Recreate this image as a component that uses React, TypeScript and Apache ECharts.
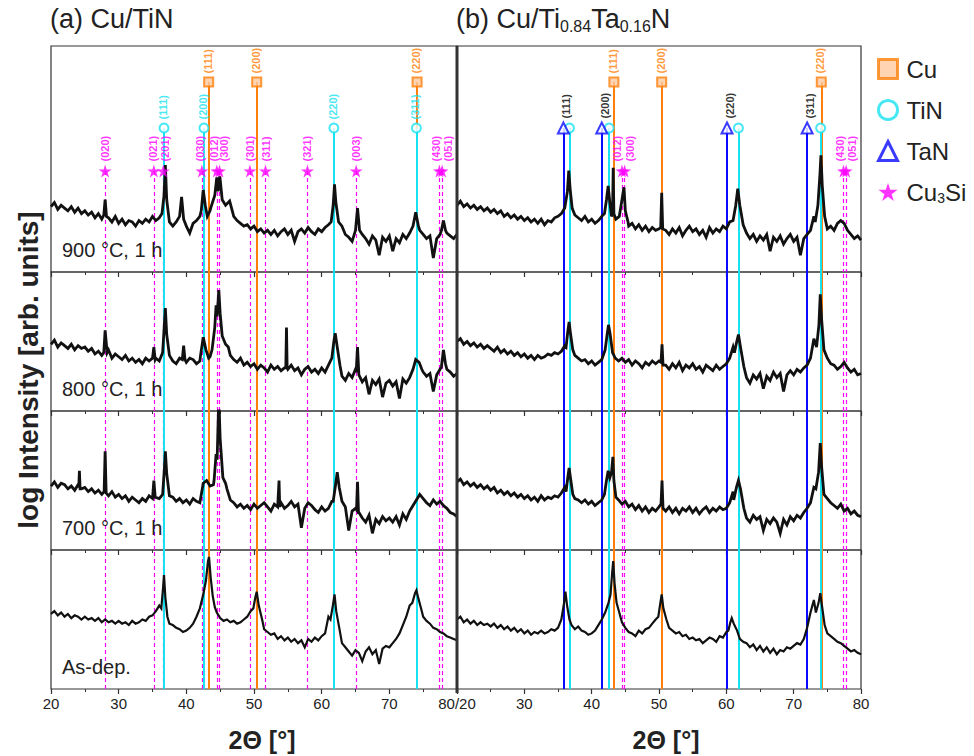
import React, { useEffect, useRef } from 'react';
import * as echarts from 'echarts';

// ---------- DATA ----------
// Baselines: intensity (arb. units, log) sampled every 0.5° from 20° to 80°
const X_START = 20;
const X_STEP = 0.5;

const a900Base = [
  47, 50, 45, 48, 46, 44, 47, 43, 46, 42,
  44, 41, 43, 39, 42, 38, 40, 39, 36, 40,
  35, 38, 34, 37, 36, 33, 37, 35, 38, 36,
  40, 37, 39, 40, 38, 36, 33, 36, 37, 35,
  33, 28, 35, 37, 40, 44, 41, 44, 46, 50,
  52, 48, 50, 47, 40, 37, 35, 33, 34, 31,
  33, 29, 31, 28, 30, 27, 30, 26, 29, 31,
  27, 30, 22, 29, 31, 28, 32, 29, 27, 31,
  29, 32, 34, 40, 45, 36, 33, 27, 25, 22,
  28, 30, 27, 24, 20, 26, 23, 12, 25, 22,
  26, 15, 24, 21, 27, 24, 28, 30, 34, 30,
  27, 24, 26, 10, 24, 27, 26, 28, 26, 24,
  27,
];
const a900Peaks = [
  [[27.8, 41], [28.0, 52], [28.2, 40]],
  [[36.4, 42], [36.7, 55], [36.9, 77], [37.1, 52], [37.4, 40]],
  [[39.0, 40], [39.3, 54], [39.6, 38]],
  [[42.2, 44], [42.5, 59], [42.8, 48], [43.1, 40]],
  [[43.6, 46], [44.2, 55], [44.5, 68], [44.7, 58], [44.95, 69], [45.3, 52], [45.8, 48], [46.4, 51], [46.9, 42]],
  [[61.4, 36], [61.7, 48], [61.9, 63], [62.1, 50], [62.5, 36]],
  [[65.0, 30], [65.3, 46], [65.6, 30]],
  [[73.5, 33], [73.9, 43], [74.3, 33]],
  [[77.7, 30], [78.0, 37], [78.3, 30]],
];

const a800Base = [
  48, 51, 46, 49, 47, 45, 48, 44, 47, 45,
  46, 43, 45, 41, 43, 40, 42, 44, 38, 41,
  39, 37, 40, 36, 38, 35, 37, 34, 38, 36,
  40, 38, 36, 39, 41, 37, 36, 34, 38, 36,
  35, 38, 37, 34, 36, 40, 42, 39, 45, 50,
  47, 44, 42, 40, 37, 35, 38, 33, 35, 32,
  34, 30, 33, 31, 28, 33, 30, 32, 29, 31,
  30, 33, 29, 31, 26, 30, 32, 28, 30, 27,
  31, 28, 33, 40, 35, 28, 25, 22, 27, 24,
  30, 26, 21, 24, 12, 22, 19, 23, 10, 20,
  22, 18, 21, 9, 23, 20, 24, 21, 30, 32,
  28, 25, 27, 14, 26, 30, 33, 30, 28, 25,
  27,
];
const a800Peaks = [
  [[27.8, 42], [28.0, 58], [28.3, 42]],
  [[35.0, 38], [35.2, 46], [35.4, 37]],
  [[36.5, 42], [36.75, 62], [36.9, 74], [37.1, 55], [37.5, 40]],
  [[39.4, 37], [39.6, 47], [39.8, 37]],
  [[42.1, 40], [42.5, 53], [42.9, 44], [43.3, 38]],
  [[43.8, 44], [44.2, 60], [44.4, 76], [44.55, 68], [44.8, 87], [45.0, 70], [45.3, 54], [45.8, 48], [46.2, 46]],
  [[54.7, 31], [54.8, 60], [54.9, 31]],
  [[61.5, 38], [61.8, 50], [62.0, 56], [62.3, 46], [62.7, 33]],
  [[65.1, 28], [65.3, 46], [65.5, 26]],
  [[73.5, 30], [73.9, 37], [74.4, 35], [74.8, 30]],
  [[77.7, 32], [78.0, 44], [78.3, 34]],
];

const a700Base = [
  46, 49, 45, 48, 47, 44, 46, 43, 47, 44,
  45, 42, 44, 41, 43, 40, 41, 39, 42, 38,
  40, 37, 39, 35, 38, 36, 34, 37, 35, 39,
  40, 38, 37, 40, 39, 36, 38, 35, 37, 34,
  36, 33, 37, 35, 34, 48, 50, 46, 47, 52,
  50, 47, 44, 36, 34, 31, 33, 30, 32, 29,
  33, 30, 32, 34, 31, 28, 33, 31, 34, 30,
  32, 35, 31, 33, 16, 30, 34, 32, 29, 27,
  31, 28, 30, 35, 40, 36, 29, 31, 14, 28,
  30, 27, 23, 20, 25, 12, 22, 19, 24, 21,
  23, 20, 24, 18, 26, 22, 28, 32, 36, 40,
  37, 34, 32, 36, 33, 35, 32, 30, 27, 26,
  24,
];
const a700Peaks = [
  [[24.1, 45], [24.2, 57], [24.3, 44]],
  [[27.85, 42], [28.0, 71], [28.15, 41]],
  [[35.0, 37], [35.2, 50], [35.4, 38]],
  [[36.5, 40], [36.75, 58], [36.9, 71], [37.1, 55], [37.5, 39]],
  [[44.1, 50], [44.4, 69], [44.55, 65], [44.8, 110], [45.0, 80], [45.4, 52], [45.8, 48]],
  [[53.6, 31], [53.7, 50], [53.8, 31]],
  [[61.7, 35], [62.0, 45], [62.3, 56], [62.6, 45], [63.0, 35]],
  [[65.15, 29], [65.3, 49], [65.45, 26]],
];

const aAsBase = [
  54, 56, 53, 55, 52, 54, 51, 53, 52, 50,
  52, 50, 51, 49, 51, 48, 50, 48, 49, 47,
  49, 47, 48, 46, 49, 47, 48, 50, 49, 52,
  53, 56, 60, 70, 52, 47, 46, 44, 43, 41,
  42, 44, 47, 52, 58, 68, 88, 72, 60, 55,
  51, 49, 50, 48, 49, 47, 48, 50, 52, 56,
  68, 55, 46, 43, 41, 39, 40, 36, 38, 35,
  37, 34, 36, 33, 35, 30, 36, 34, 37, 35,
  38, 40, 52, 62, 42, 36, 33, 30, 27, 24,
  28, 26, 20, 27, 30, 25, 28, 18, 29, 31,
  30, 33, 36, 40, 46, 52, 60, 68, 70, 60,
  52, 49, 47, 44, 43, 41, 40, 38, 37, 36,
  35,
];
const aAsPeaks = [
  [[36.3, 58], [36.55, 72], [36.7, 82], [36.9, 66], [37.2, 52]],
  [[42.6, 68], [42.9, 78], [43.2, 92], [43.35, 95], [43.6, 80], [43.9, 67], [44.2, 59]],
  [[49.9, 58], [50.2, 66], [50.4, 70], [50.7, 60], [51.2, 50]],
  [[61.3, 50], [61.65, 60], [61.9, 68], [62.15, 56], [62.6, 44]],
  [[73.4, 62], [73.8, 69], [74.0, 71], [74.3, 65], [74.8, 56]],
];

const b900Base = [
  48, 51, 47, 49, 46, 48, 45, 47, 44, 46,
  43, 45, 42, 44, 40, 42, 39, 41, 38, 40,
  37, 39, 36, 38, 35, 38, 34, 37, 36, 39,
  40, 42, 46, 55, 50, 41, 39, 37, 40, 36,
  38, 35, 37, 40, 42, 45, 40, 36, 38, 48,
  36, 33, 35, 31, 34, 30, 33, 29, 32, 30,
  31, 40, 30, 27, 31, 28, 32, 26, 30, 33,
  29, 31, 27, 30, 25, 32, 28, 31, 29, 33,
  31, 36, 45, 42, 30, 26, 28, 24, 27, 22,
  26, 23, 27, 15, 25, 22, 26, 20, 24, 27,
  22, 25, 12, 24, 27, 30, 40, 60, 45, 34,
  31, 33, 30, 35, 37, 35, 30, 27, 24, 26,
  23,
];
const b900Peaks = [
  [[36.1, 46], [36.4, 58], [36.6, 73], [36.8, 60], [37.1, 46], [37.5, 41]],
  [[41.9, 42], [42.2, 52], [42.45, 62], [42.7, 50], [42.95, 40], [43.1, 42], [43.2, 75], [43.3, 42], [43.6, 38], [44.1, 40], [44.5, 52], [44.8, 61], [45.0, 44], [45.4, 36]],
  [[50.25, 32], [50.4, 57], [50.55, 31]],
  [[61.0, 37], [61.4, 48], [61.7, 60], [62.0, 48], [62.5, 34]],
  [[73.2, 36], [73.6, 48], [73.9, 70], [74.05, 84], [74.25, 62], [74.6, 40]],
];

const b800Base = [
  50, 52, 48, 50, 47, 49, 46, 48, 45, 47,
  45, 43, 46, 42, 44, 41, 43, 40, 42, 39,
  41, 38, 40, 37, 40, 38, 39, 41, 40, 42,
  41, 43, 47, 55, 50, 40, 38, 36, 37, 34,
  36, 33, 35, 37, 40, 50, 45, 38, 36, 38,
  35, 37, 33, 36, 34, 31, 35, 33, 36, 34,
  36, 35, 33, 30, 34, 31, 35, 29, 33, 31,
  34, 30, 32, 28, 33, 31, 29, 33, 30, 32,
  34, 38, 46, 50, 34, 27, 24, 20, 26, 23,
  27, 16, 25, 22, 28, 24, 27, 14, 26, 29,
  26, 30, 28, 31, 33, 38, 52, 60, 42, 36,
  38, 34, 33, 30, 32, 35, 31, 28, 30, 26,
  27,
];
const b800Peaks = [
  [[36.2, 46], [36.45, 57], [36.65, 64], [36.85, 56], [37.2, 44]],
  [[42.0, 44], [42.3, 55], [42.5, 62], [42.75, 55], [43.1, 42]],
  [[50.3, 35], [50.45, 48], [50.6, 33]],
  [[61.2, 42], [61.55, 50], [61.8, 55], [62.1, 46], [62.6, 32]],
  [[73.4, 46], [73.75, 62], [73.95, 84], [74.15, 66], [74.5, 44]],
];

const b700Base = [
  49, 51, 47, 49, 46, 48, 45, 47, 44, 46,
  43, 45, 41, 43, 40, 42, 39, 41, 38, 40,
  37, 39, 36, 38, 35, 39, 36, 38, 37, 39,
  38, 41, 45, 52, 45, 37, 36, 34, 36, 33,
  35, 32, 34, 36, 40, 50, 55, 40, 36, 33,
  35, 31, 33, 29, 32, 28, 31, 27, 30, 28,
  31, 29, 28, 31, 27, 30, 26, 30, 28, 31,
  27, 30, 26, 29, 31, 27, 30, 28, 31, 29,
  30, 34, 42, 44, 30, 26, 23, 20, 25, 22,
  24, 14, 22, 19, 23, 20, 12, 22, 18, 24,
  21, 25, 23, 27, 30, 34, 45, 55, 40, 36,
  37, 34, 32, 30, 33, 28, 30, 26, 28, 25,
  24,
];
const b700Peaks = [
  [[36.2, 42], [36.45, 52], [36.65, 59], [36.85, 52], [37.2, 40]],
  [[41.9, 40], [42.2, 50], [42.45, 57], [42.7, 52], [42.95, 56], [43.15, 67], [43.3, 50], [43.6, 38]],
  [[50.3, 33], [50.45, 50], [50.6, 30]],
  [[61.1, 36], [61.5, 45], [61.8, 50], [62.1, 44], [62.6, 30]],
  [[73.3, 44], [73.7, 56], [73.95, 77], [74.15, 60], [74.5, 40]],
];

const bAsBase = [
  50, 52, 48, 50, 47, 49, 46, 48, 46, 47,
  45, 47, 44, 46, 43, 45, 42, 44, 41, 43,
  40, 42, 39, 41, 40, 42, 40, 41, 43, 42,
  44, 50, 60, 54, 46, 43, 45, 42, 41, 39,
  40, 42, 46, 50, 54, 59, 80, 70, 56, 48,
  44, 41, 40, 38, 42, 40, 43, 44, 47, 50,
  62, 52, 45, 44, 42, 40, 41, 38, 39, 36,
  37, 35, 36, 33, 35, 37, 36, 34, 38, 37,
  41, 48, 46, 38, 36, 34, 33, 30, 32, 28,
  31, 27, 30, 26, 29, 25, 28, 27, 30, 29,
  31, 33, 32, 36, 44, 55, 64, 62, 50, 42,
  40, 38, 36, 34, 33, 31, 29, 27, 28, 26,
  25,
];
const bAsPeaks = [
  [[35.6, 50], [35.9, 62], [36.1, 70], [36.35, 60], [36.7, 50]],
  [[42.0, 55], [42.5, 62], [42.8, 68], [43.05, 84], [43.2, 92], [43.4, 76], [43.7, 62], [44.1, 55]],
  [[49.9, 52], [50.2, 62], [50.4, 68], [50.65, 58], [51.1, 50]],
  [[60.3, 42], [60.6, 48], [60.8, 51], [61.1, 47], [61.6, 42]],
  [[73.3, 55], [73.7, 62], [73.95, 69], [74.2, 60], [74.6, 46]],
];

// Reference peak positions (2θ) and Miller indices
const cuPos = [43.3, 50.4, 74.1];
const cuHkl = ['(111)', '(200)', '(220)'];
const tinPos = [36.7, 42.6, 61.8, 74.0];
const tinHkl = ['(111)', '(200)', '(220)', '(311)'];
const tanPos = [35.8, 41.5, 60.1, 72.0];
const tanHkl = ['(111)', '(200)', '(220)', '(311)'];
const siPosA = [28.0, 35.2, 36.6, 42.3, 44.5, 44.9, 49.4, 51.7, 57.9, 65.1, 77.4, 77.8];
const siHklA = ['(020)', '(021)', '(201)', '(030)', '(012)', '(300)', '(301)', '(311)', '(321)', '(003)', '(430)', '(051)'];
const siPosB = [44.5, 44.9, 77.4, 77.8];
const siHklB = ['(012)', '(300)', '(430)', '(051)'];

const sampleLabels = ['900 °C, 1 h', '800 °C, 1 h', '700 °C, 1 h', 'As-dep.'];
const xTickLeft = (v: number) => (v === 80 ? '80/20' : String(v));
const xTickRight = (v: number) => (v === 20 ? '' : String(v));

// ---------- STYLE ----------
const FONT = '"Liberation Sans", Arial, sans-serif';
const NARROW = '"Liberation Sans Narrow", "Liberation Sans", Arial, sans-serif';
const CU = '#ff7f0a';
const CU_FILL = '#ffc9a0';
const TIN = '#18e2f0';
const TAN = '#0a0aff';
const SI = '#ff00ff';
const INK = '#222';
const STAR = 'path://M50,0 L61.2,34.5 L97.6,34.5 L68.2,55.9 L79.4,90.5 L50,69.1 L20.6,90.5 L31.8,55.9 L2.4,34.5 L38.8,34.5 Z';

const UNIT = 1.39; // px per intensity unit
const ROWS = [
  { top: 46, height: 226 },
  { top: 272, height: 139 },
  { top: 411, height: 139 },
  { top: 550, height: 139 },
];
const SIDES = [
  { left: 51, width: 406 },
  { left: 457, width: 404 },
];
const Y_CU = (272 - 82) / UNIT;
const Y_RING = (272 - 128) / UNIT;
const Y_STAR = (272 - 171) / UNIT;
// horizontal pixel shifts of crowded hkl labels
const siOffA = [0, -1, 2, -2, -3, 5, 0, 0, 0, 0, -3, 6];
const siOffB = [-5, 5, -3, 6];

function buildTrace(base: number[], peaks: number[][][]) {
  const ranges = peaks.map((g) => [g[0][0], g[g.length - 1][0]]);
  const pts: number[][] = [];
  base.forEach((v, i) => {
    const x = X_START + i * X_STEP;
    if (!ranges.some(([a, b]) => x >= a && x <= b)) pts.push([x, v]);
  });
  peaks.forEach((g) => g.forEach((p) => pts.push(p)));
  pts.sort((p, q) => p[0] - q[0]);
  return pts;
}

const traces = [
  [buildTrace(a900Base, a900Peaks), buildTrace(a800Base, a800Peaks), buildTrace(a700Base, a700Peaks), buildTrace(aAsBase, aAsPeaks)],
  [buildTrace(b900Base, b900Peaks), buildTrace(b800Base, b800Peaks), buildTrace(b700Base, b700Peaks), buildTrace(bAsBase, bAsPeaks)],
];

function labelAt(size: number, dx: number, color: string, bold: boolean) {
  return {
    show: true,
    position: [size / 2 + dx, -3],
    rotate: 90,
    align: 'left',
    verticalAlign: 'middle',
    color,
    fontSize: 11,
    fontFamily: FONT,
    fontWeight: bold ? 'bold' : 'normal',
  };
}

function buildOption() {
  const grid: any[] = [];
  const xAxis: any[] = [];
  const yAxis: any[] = [];
  const series: any[] = [];
  const graphic: any[] = [];

  SIDES.forEach((side, s) => {
    ROWS.forEach((row, r) => {
      const gi = s * 4 + r;
      grid.push({
        left: side.left, top: row.top, width: side.width, height: row.height,
        show: true, borderColor: '#333', borderWidth: 1.2, backgroundColor: 'transparent',
      });
      xAxis.push({
        type: 'value', gridIndex: gi, min: 20, max: 80, interval: 10,
        axisLine: { show: false },
        axisTick: { show: true, length: 5, inside: false, lineStyle: { color: '#333', width: 1.2 } },
        minorTick: { show: true, splitNumber: 2, length: 3, lineStyle: { color: '#333', width: 1 } },
        splitLine: { show: false },
        axisLabel: {
          show: r === 3, fontSize: 15, color: INK, fontFamily: NARROW, margin: 7,
          showMinLabel: true, showMaxLabel: true,
          formatter: s === 0 ? xTickLeft : xTickRight,
        },
      });
      yAxis.push({ type: 'value', gridIndex: gi, min: 0, max: row.height / UNIT, show: false });

      // reference lines
      const top = r === 0;
      const mk = (pos: number[], yTop: number, style: any) =>
        pos.map((x) => (top ? [{ coord: [x, yTop], lineStyle: style }, { coord: [x, 0] }] : { xAxis: x, lineStyle: style }));
      const cuStyle = { color: CU, width: 2, type: 'solid' };
      const tinStyle = { color: TIN, width: 2, type: 'solid' };
      const tanStyle = { color: TAN, width: 2, type: 'solid' };
      const siStyle = { color: SI, width: 1.2, type: [4, 3] };
      const groups: any[] = [
        { pos: cuPos, y: Y_CU, st: cuStyle },
        { pos: s === 0 ? siPosA : siPosB, y: Y_STAR, st: siStyle },
        { pos: tinPos, y: Y_RING, st: tinStyle },
      ];
      if (s === 1) groups.push({ pos: tanPos, y: Y_RING, st: tanStyle });
      groups.forEach((g, k) => {
        series.push({
          type: 'line', xAxisIndex: gi, yAxisIndex: gi, data: [], z: 2 + k * 0.01, silent: true,
          markLine: { silent: true, symbol: ['none', 'none'], label: { show: false }, animation: false, data: mk(g.pos, g.y, g.st) },
        });
      });

      // trace (heavy line standing in for the dense noise band)
      series.push({
        type: 'line', name: 'trace', xAxisIndex: gi, yAxisIndex: gi, data: traces[s][r],
        showSymbol: false, symbol: 'none', clip: true, silent: true, z: 5,
        lineStyle: { color: '#111', width: r === 3 ? 2.2 : 2.8, join: 'miter' },
      });

      if (top) {
        series.push({
          type: 'scatter', name: 'Cu', xAxisIndex: gi, yAxisIndex: gi, z: 6, silent: true,
          symbol: 'rect', symbolSize: 9,
          itemStyle: { color: CU_FILL, borderColor: CU, borderWidth: 2 },
          label: { ...labelAt(9, 0, CU, true), formatter: (p: any) => p.data.hkl },
          data: cuPos.map((x, i) => ({ value: [x, Y_CU], hkl: cuHkl[i] })),
        });
        const siPos = s === 0 ? siPosA : siPosB;
        const siHkl = s === 0 ? siHklA : siHklB;
        const siOff = s === 0 ? siOffA : siOffB;
        series.push({
          type: 'scatter', name: 'Cu3Si', xAxisIndex: gi, yAxisIndex: gi, z: 6, silent: true,
          symbol: STAR, symbolSize: 13,
          itemStyle: { color: SI },
          label: { ...labelAt(13, 0, SI, true), formatter: (p: any) => p.data.hkl },
          data: siPos.map((x, i) => ({ value: [x, Y_STAR], hkl: siHkl[i], label: labelAt(13, siOff[i], SI, true) })),
        });
        series.push({
          type: 'scatter', name: 'TiN', xAxisIndex: gi, yAxisIndex: gi, z: 6, silent: true,
          symbol: 'circle', symbolSize: 9,
          itemStyle: { color: '#fff', borderColor: TIN, borderWidth: 2 },
          label: { ...labelAt(9, 0, TIN, true), show: s === 0, formatter: (p: any) => p.data.hkl },
          data: tinPos.map((x, i) => ({ value: [x, Y_RING], hkl: tinHkl[i] })),
        });
        if (s === 1) {
          series.push({
            type: 'scatter', name: 'TaN', xAxisIndex: gi, yAxisIndex: gi, z: 6, silent: true,
            symbol: 'triangle', symbolSize: 11,
            itemStyle: { color: '#fff', borderColor: TAN, borderWidth: 2 },
            label: { ...labelAt(11, 4, '#000', true), formatter: (p: any) => p.data.hkl },
            data: tanPos.map((x, i) => ({ value: [x, Y_RING], hkl: tanHkl[i] })),
          });
        }
      }

      if (s === 0) {
        graphic.push({
          type: 'text', left: 62, top: row.top + row.height - 32, z: 20,
          style: { text: sampleLabels[r], fontSize: 20, fontFamily: FONT, fill: INK },
        });
      }
    });
  });

  graphic.push(
    { type: 'line', z: 30, shape: { x1: 457, y1: 46, x2: 457, y2: 693 }, style: { stroke: '#333', lineWidth: 3 } },
    {
      type: 'text', left: 50, top: 5, z: 20,
      style: { text: '(a) Cu/TiN', fontSize: 27, fontFamily: FONT, fill: INK },
    },
    {
      type: 'text', left: 456, top: 5, z: 20,
      style: {
        text: '(b) Cu/Ti{s|0.84}Ta{s|0.16}N', fontSize: 27, fontFamily: FONT, fill: INK,
        rich: { s: { fontSize: 16, fontFamily: FONT, fill: INK, padding: [15, 0, 0, 0] } },
      },
    },
    {
      type: 'text', x: 28, y: 370, rotation: Math.PI / 2, z: 20,
      style: { text: 'log Intensity [arb. units]', font: `bold 28px ${FONT}`, fill: INK, align: 'center', verticalAlign: 'middle' },
    },
    {
      type: 'text', x: 262, y: 740, z: 20,
      style: { text: '2Θ [°]', font: `bold 25px ${FONT}`, fill: INK, align: 'center', verticalAlign: 'middle' },
    },
    {
      type: 'text', x: 666, y: 740, z: 20,
      style: { text: '2Θ [°]', font: `bold 25px ${FONT}`, fill: INK, align: 'center', verticalAlign: 'middle' },
    },
  );

  return {
    animation: false,
    backgroundColor: '#fff',
    grid, xAxis, yAxis, series, graphic,
    legend: {
      orient: 'vertical', left: 872, top: 52, itemWidth: 19, itemHeight: 19, itemGap: 17,
      selectedMode: false,
      textStyle: {
        fontSize: 24, color: INK, fontFamily: FONT, padding: [0, 0, 0, 4],
        rich: { sub: { fontSize: 14, fontFamily: FONT, color: INK, padding: [12, 0, 0, 0] } },
      },
      formatter: (n: string) => (n === 'Cu3Si' ? 'Cu{sub|3}Si' : n),
      data: [
        { name: 'Cu', icon: 'rect', itemStyle: { color: CU_FILL, borderColor: CU, borderWidth: 3 } },
        { name: 'TiN', icon: 'circle', itemStyle: { color: '#fff', borderColor: TIN, borderWidth: 3 } },
        { name: 'TaN', icon: 'triangle', itemStyle: { color: '#fff', borderColor: TAN, borderWidth: 3 } },
        { name: 'Cu3Si', icon: STAR, itemStyle: { color: SI } },
      ],
    },
  };
}

export default function App() {
  const ref = useRef<HTMLDivElement>(null);
  useEffect(() => {
    if (!ref.current) return;
    const chart = echarts.init(ref.current, null, { renderer: 'svg' });
    chart.setOption(buildOption() as any);
    return () => chart.dispose();
  }, []);
  return <div ref={ref} style={{ position: 'absolute', left: 0, top: 0, width: 974, height: 756 }} />;
}
